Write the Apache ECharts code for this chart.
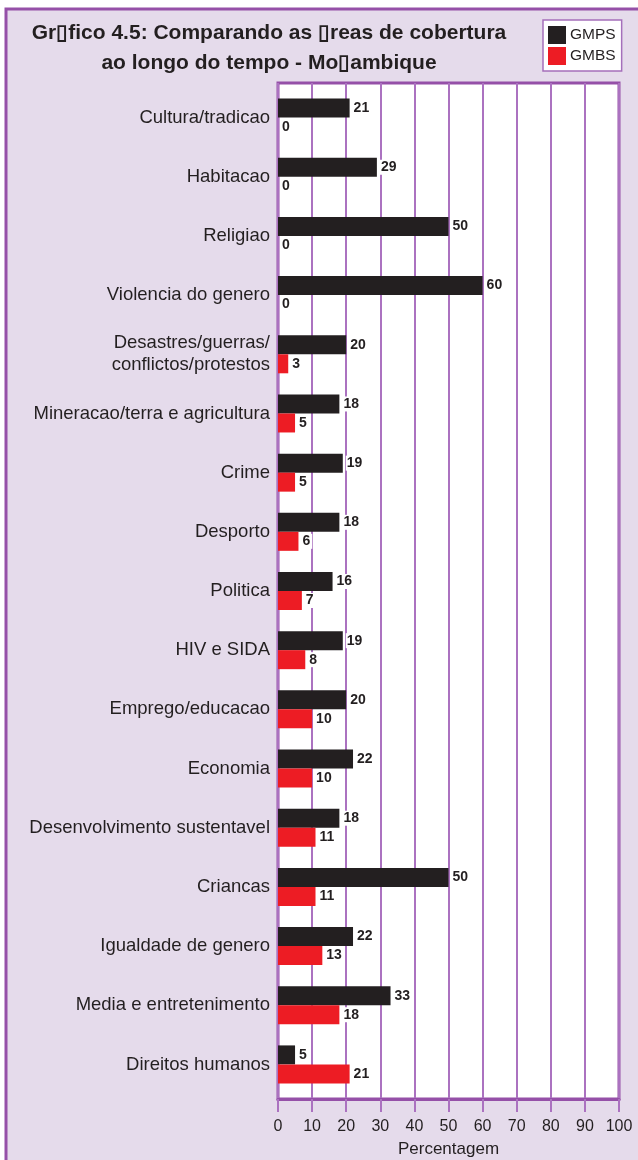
<!DOCTYPE html>
<html>
<head>
<meta charset="utf-8">
<title>Grafico 4.5</title>
<script src="https://cdn.jsdelivr.net/npm/echarts@6/dist/echarts.min.js"></script>
<style>
html,body{margin:0;padding:0;background:#fff;}
#chart{width:638px;height:1160px;}
</style>
</head>
<body>
<div id="chart"></div>
<script>
// dados
var categorias = ['Cultura/tradicao', 'Habitacao', 'Religiao', 'Violencia do genero',
	'Desastres/guerras/\nconflictos/protestos', 'Mineracao/terra e agricultura', 'Crime',
	'Desporto', 'Politica', 'HIV e SIDA', 'Emprego/educacao', 'Economia',
	'Desenvolvimento sustentavel', 'Criancas', 'Igualdade de genero',
	'Media e entretenimento', 'Direitos humanos'];
var gmps = [21, 29, 50, 60, 20, 18, 19, 18, 16, 19, 20, 22, 18, 50, 22, 33, 5];
var gmbs = [0, 0, 0, 0, 3, 5, 5, 6, 7, 8, 10, 10, 11, 11, 13, 18, 21];
var xMin = 0, xMax = 100, xStep = 10;
var titulo = ['Gr\u25affico 4.5: Comparando as \u25afreas de cobertura', 'ao longo do tempo - Mo\u25afambique'];

var roxo = '#9550a8';
var roxoClaro = '#ab72c0';
var preto = '#231f20';
var vermelho = '#ed1c24';

var chart = echarts.init(document.getElementById('chart'));

var rotulo = {
	show: true,
	position: 'right',
	distance: 3,
	color: preto,
	fontFamily: 'Liberation Sans',
	fontWeight: 'bold',
	fontSize: 14,
	backgroundColor: '#fff',
	padding: [1, 2, 0, 1]
};

option = {
	animation: false,
	graphic: [{
		type: 'rect',
		z: -10,
		shape: {x: 6, y: 9, width: 700, height: 1200},
		style: {fill: '#e5dbeb', stroke: roxo, lineWidth: 3}
	}, {
		//titulo
		type: 'text',
		x: 269,
		y: 18,
		style: {
			text: titulo.join('\n'),
			textAlign: 'center',
			font: 'bold 21px "Liberation Sans"',
			lineHeight: 30,
			fill: preto
		}
	}],
	legend: {
		orient: 'vertical',
		left: 543,
		top: 20,
		itemWidth: 18,
		itemHeight: 18,
		itemGap: 3,
		padding: [6, 6, 6, 5],
		backgroundColor: '#fff',
		borderColor: '#a56fbb',
		borderWidth: 1.5,
		icon: 'rect',
		textStyle: {fontFamily: 'Liberation Sans', fontSize: 15.5, color: preto, padding: [0, 0, 0, -1]},
		data: ['GMPS', 'GMBS']
	},
	grid: [{
		left: 278, top: 83, width: 341, height: 1016,
		outerBoundsMode: 'none',
		show: true,
		backgroundColor: '#fff',
		borderColor: roxo,
		borderWidth: 3
	}, {
		left: 278, top: 88, width: 341, height: 1006,
		outerBoundsMode: 'none'
	}],
	xAxis: [{
		gridIndex: 0,
		type: 'value',
		min: xMin,
		max: xMax,
		interval: xStep,
		name: 'Percentagem',
		nameLocation: 'middle',
		nameGap: 42,
		nameTextStyle: {fontFamily: 'Liberation Sans', fontSize: 17, color: preto},
		axisLine: {show: true, lineStyle: {color: roxo, width: 3}},
		axisTick: {show: true, length: 13, lineStyle: {color: roxoClaro, width: 2}},
		splitLine: {show: true, lineStyle: {color: roxoClaro, width: 2}},
		axisLabel: {margin: 20, fontFamily: 'Liberation Sans', fontSize: 16, color: preto}
	}, {
		gridIndex: 1,
		type: 'value',
		min: xMin,
		max: xMax,
		show: false
	}],
	yAxis: [{
		gridIndex: 0,
		type: 'value',
		show: false
	}, {
		gridIndex: 1,
		type: 'category',
		inverse: true,
		data: categorias,
		axisLine: {show: false},
		axisTick: {show: false},
		axisLabel: {
			margin: 8,
			fontFamily: 'Liberation Sans',
			fontSize: 18.5,
			lineHeight: 22,
			color: preto
		}
	}],
	series: [{
		name: 'GMPS',
		type: 'bar',
		xAxisIndex: 1,
		yAxisIndex: 1,
		data: gmps,
		barWidth: 19,
		barGap: 0,
		itemStyle: {color: preto},
		label: rotulo
	}, {
		name: 'GMBS',
		type: 'bar',
		xAxisIndex: 1,
		yAxisIndex: 1,
		data: gmbs,
		barWidth: 19,
		barGap: 0,
		itemStyle: {color: vermelho},
		label: rotulo
	}]
};
chart.setOption(option);
</script>
</body>
</html>
